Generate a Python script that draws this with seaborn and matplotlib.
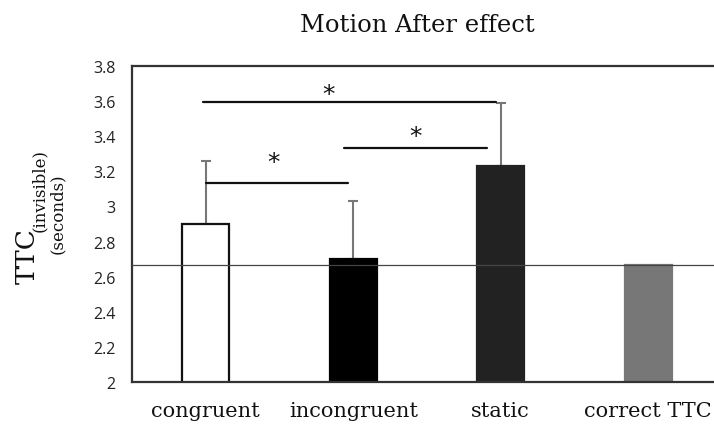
import matplotlib
matplotlib.use("Agg")
import matplotlib.pyplot as plt
import seaborn as sns
import pandas as pd

# Mean time-to-contact per condition and upper SD
conditions = ["congruent", "incongruent", "static", "correct TTC"]
means = [2.90, 2.70, 3.23, 2.667]
errors = [0.36, 0.33, 0.36, 0.0]
bar_colors = ["#ffffff", "#000000", "#222222", "#777777"]
edge_colors = ["#111111", "#000000", "#222222", "#777777"]
reference_ttc = 2.667

# Significance brackets: (x start, x end, height, star x, star y)
brackets = [
    (-0.02, 1.97, 3.593, 0.835, 3.642),
    (0.94, 1.91, 3.333, 1.42, 3.40),
    (0.0, 0.964, 3.131, 0.46, 3.253),
]

yticks = [2, 2.2, 2.4, 2.6, 2.8, 3, 3.2, 3.4, 3.6, 3.8]
ytick_labels = ["2", "2.2", "2.4", "2.6", "2.8", "3", "3.2", "3.4", "3.6", "3.8"]

sns.set_theme(style="white")
plt.rcParams["font.family"] = ["DejaVu Sans"]

df = pd.DataFrame({"condition": conditions, "ttc": means})

fig = plt.figure(figsize=(7.14, 4.27), dpi=100)
ax = fig.add_axes([0.185, 0.103, 0.826, 0.740])

sns.barplot(data=df, x="condition", y="ttc", hue="condition", palette=bar_colors,
            legend=False, width=0.32, ax=ax, zorder=2)
for patch, ec in zip(ax.patches, edge_colors):
    patch.set_edgecolor(ec)
    patch.set_linewidth(1.6)

# upper-only error bars
xs = range(len(conditions))
ax.errorbar([x for x, e in zip(xs, errors) if e > 0],
            [m for m, e in zip(means, errors) if e > 0],
            yerr=[[0] * 3, [e for e in errors if e > 0]],
            fmt="none", ecolor="#777777", elinewidth=1.5, capsize=3.5, capthick=1.5, zorder=1)

ax.axhline(reference_ttc, color="#444444", lw=0.9, zorder=3)

for x0, x1, yb, sx, sy in brackets:
    ax.plot([x0, x1], [yb, yb], color="#111111", lw=1.6, zorder=4)
    ax.text(sx, sy, "*", ha="center", va="center", fontsize=18,
            family="DejaVu Sans", color="#111111")

ax.set_ylim(2, 3.8)
ax.set_xlim(-0.5, 3.5)
ax.set_yticks(yticks)
ax.set_yticklabels(ytick_labels, fontsize=11.5, family="Open Sans", color="#222222")
ax.tick_params(axis="y", length=0, pad=12)
ax.tick_params(axis="x", length=0, pad=14)
ax.set_xticks(list(xs))
ax.set_xticklabels(conditions, fontsize=15, family="DejaVu Serif", color="#111111")
ax.set_xlabel("")
ax.set_ylabel("")
for side in ["left", "bottom", "top"]:
    ax.spines[side].set_visible(True)
    ax.spines[side].set_color("#333333")
    ax.spines[side].set_linewidth(1.6)
ax.spines["right"].set_visible(False)

fig.text(0.585, 0.94, "Motion After effect", ha="center", va="center",
         fontsize=17.5, family="DejaVu Serif", color="#111111")

# y label: TTC with subscript and units line
fig.text(0.038, 0.40, "TTC", rotation=90, ha="center", va="center",
         fontsize=19, family="DejaVu Serif", color="#111111")
fig.text(0.056, 0.553, "(invisible)", rotation=90, ha="center", va="center",
         fontsize=12, family="DejaVu Serif", color="#111111")
fig.text(0.080, 0.50, "(seconds)", rotation=90, ha="center", va="center",
         fontsize=12, family="DejaVu Serif", color="#111111")

fig.savefig("out.png", dpi=100)
